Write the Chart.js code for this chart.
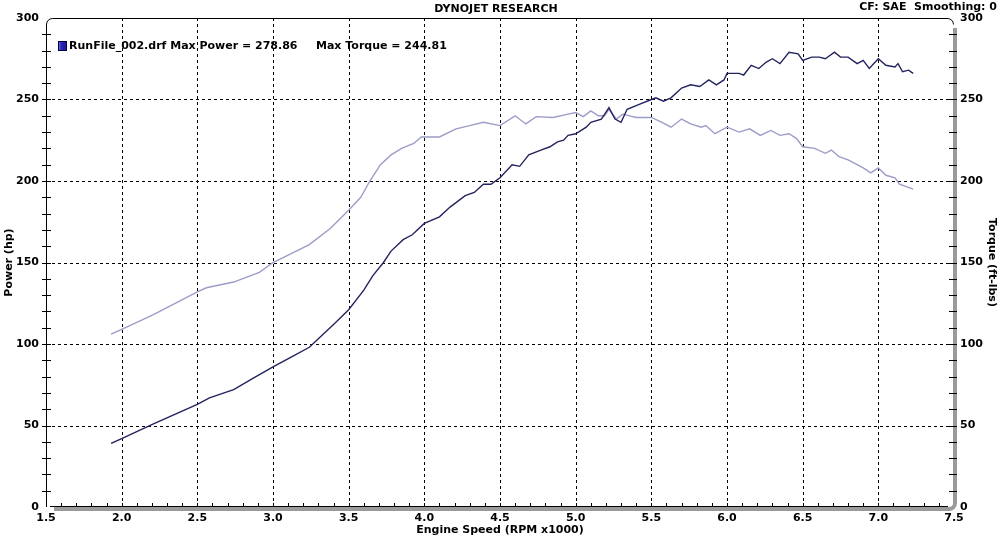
<!DOCTYPE html>
<html>
<head>
<meta charset="utf-8">
<script src="https://cdn.jsdelivr.net/npm/chart.js@4"></script>
<style>
  html, body { margin: 0; padding: 0; background: #fff; }
  #wrap { width: 1000px; height: 537px; }
</style>
</head>
<body>
<div id="wrap"><canvas id="dyno" width="1000" height="537"></canvas></div>
<script>
// Dyno run readings (RPM x1000)
const powerRpm = [1.93, 2.0, 2.21, 2.5, 2.58, 2.74, 2.87, 3.0, 3.12, 3.24, 3.40, 3.50, 3.60, 3.66, 3.73, 3.78, 3.86, 3.92, 4.0, 4.10,
    4.17, 4.27, 4.33, 4.39, 4.44, 4.5, 4.58, 4.63, 4.69, 4.77, 4.83, 4.88, 4.92, 4.95, 5.0, 5.07, 5.10, 5.17, 5.22, 5.26,
    5.30, 5.34, 5.42, 5.5, 5.53, 5.58, 5.63, 5.70, 5.76, 5.82, 5.88, 5.93, 5.98, 6.0, 6.08, 6.11, 6.16, 6.21, 6.26, 6.30,
    6.35, 6.41, 6.47, 6.50, 6.56, 6.61, 6.65, 6.71, 6.75, 6.80, 6.86, 6.90, 6.94, 7.0, 7.05, 7.11, 7.13, 7.16, 7.20, 7.23];
const powerHp = [39, 42, 51, 63, 67, 72, 79, 86, 92, 98, 112, 121, 133, 142, 150, 157, 164, 167, 174, 178,
    184, 191, 193, 198, 198, 202, 210, 209, 216, 219, 221, 224, 225, 228, 229, 233, 236, 238, 245, 238,
    236, 244, 247, 250, 251, 249, 251, 257, 259, 258, 262, 259, 262, 266, 266, 265, 271, 269, 273, 275,
    272, 279, 278, 274, 276, 276, 275, 279, 276, 276, 272, 274, 269, 275, 271, 270, 272, 267, 268, 266];

const torqueRpm = [1.93, 2.0, 2.21, 2.5, 2.56, 2.74, 2.91, 3.0, 3.11, 3.24, 3.38, 3.5, 3.58, 3.64, 3.71, 3.78, 3.85, 3.93, 3.98, 4.10,
    4.21, 4.30, 4.39, 4.50, 4.60, 4.67, 4.74, 4.85, 4.95, 5.0, 5.05, 5.10, 5.15, 5.19, 5.22, 5.27, 5.31, 5.40, 5.5, 5.57,
    5.63, 5.70, 5.76, 5.83, 5.86, 5.92, 6.0, 6.08, 6.15, 6.22, 6.29, 6.35, 6.41, 6.46, 6.50, 6.58, 6.65, 6.69, 6.74, 6.80,
    6.86, 6.90, 6.95, 7.0, 7.05, 7.11, 7.14, 7.23];
const torqueFtLbs = [106, 109, 118, 132, 134.5, 138, 144, 150, 155, 161, 171, 182, 190, 200, 210, 216, 220, 223, 227, 227,
    232, 234, 236, 234, 240, 235, 239.5, 239, 241, 242, 239.5, 243, 240, 240, 244, 238, 241, 239, 239, 236,
    233, 238, 235, 233, 234, 229, 233, 230, 232, 228, 231, 228, 229, 226, 221, 220, 217, 219, 215, 213,
    210, 208, 205, 208, 203.5, 202, 198, 195];

const rpmTicks = [1.5, 2.0, 2.5, 3.0, 3.5, 4.0, 4.5, 5.0, 5.5, 6.0, 6.5, 7.0, 7.5];
const yTicks = [0, 50, 100, 150, 200, 250, 300];

const FONT = 'DejaVu Sans, Verdana, sans-serif';

function toPoints(xs, ys) {
    return xs.map((x, i) => ({ x: x, y: ys[i] }));
}

// dashed grid under the curves
const dashedGrid = {
    id: 'dashedGrid',
    beforeDatasetsDraw(chart) {
        const ctx = chart.ctx;
        const a = chart.chartArea;
        const xs = chart.scales.x;
        const yl = chart.scales.y;
        ctx.save();
        ctx.strokeStyle = '#000';
        ctx.lineWidth = 1;
        ctx.setLineDash([3, 3]);
        ctx.beginPath();
        rpmTicks.slice(1, -1).forEach(v => {
            const px = Math.round(xs.getPixelForValue(v)) + 0.5;
            ctx.moveTo(px, a.top); ctx.lineTo(px, a.bottom);
        });
        yTicks.slice(1, -1).forEach(v => {
            const py = Math.round(yl.getPixelForValue(v)) + 0.5;
            ctx.moveTo(a.left, py); ctx.lineTo(a.right, py);
        });
        ctx.stroke();
        ctx.restore();
    }
};

// Frame, minor ticks and all the header / axis texts
const dynoDecor = {
    id: 'dynoDecor',
    afterDraw(chart) {
        const ctx = chart.ctx;
        const a = chart.chartArea;
        const xs = chart.scales.x;
        const yl = chart.scales.y;
        const r = 6;
        ctx.save();

        // grey shadow on right and bottom
        ctx.strokeStyle = '#9a9a9a';
        ctx.lineWidth = 4;
        ctx.beginPath();
        ctx.moveTo(a.right + 1, a.top + 10);
        ctx.lineTo(a.right + 1, a.bottom - r);
        ctx.arcTo(a.right + 1, a.bottom + 2, a.right - r, a.bottom + 2, r);
        ctx.lineTo(a.left + 8, a.bottom + 2);
        ctx.stroke();

        // black frame with rounded corners
        ctx.strokeStyle = '#000';
        ctx.lineWidth = 1;
        ctx.beginPath();
        ctx.moveTo(a.left + 0.5, a.bottom);
        ctx.lineTo(a.left + 0.5, a.top + r);
        ctx.arcTo(a.left + 0.5, a.top + 0.5, a.left + r, a.top + 0.5, r);
        ctx.lineTo(a.right - r, a.top + 0.5);
        ctx.arcTo(a.right - 0.5, a.top + 0.5, a.right - 0.5, a.top + r, r);
        ctx.moveTo(a.left + 4, a.bottom - 0.5);
        ctx.lineTo(a.right - r, a.bottom - 0.5);
        ctx.stroke();

        // minor ticks
        ctx.beginPath();
        for (let v = 10; v < 300; v += 10) {
            const py = Math.round(yl.getPixelForValue(v)) + 0.5;
            ctx.moveTo(a.left - 4, py); ctx.lineTo(a.left + 5, py);
            ctx.moveTo(a.right - 5, py); ctx.lineTo(a.right + 3, py);
        }
        for (let k = 16; k < 75; k++) {
            const px = Math.round(xs.getPixelForValue(k / 10)) + 0.5;
            ctx.moveTo(px, a.bottom - 4); ctx.lineTo(px, a.bottom);
        }
        ctx.stroke();

        // texts
        ctx.fillStyle = '#000';
        ctx.font = 'bold 11px ' + FONT;
        ctx.textBaseline = 'middle';
        ctx.textAlign = 'center';
        ctx.fillText('DYNOJET RESEARCH', 496, 9);
        ctx.textAlign = 'right';
        ctx.fillText('CF: SAE  Smoothing: 0', 997, 7);

        ctx.textAlign = 'left';
        ctx.fillText('RunFile_002.drf Max Power = 278.86', 69, 46);
        ctx.fillText('Max Torque = 244.81', 316, 46);

        // legend swatch
        const g = ctx.createLinearGradient(58, 0, 67, 0);
        g.addColorStop(0, '#8a8ae8');
        g.addColorStop(0.35, '#2525b8');
        g.addColorStop(1, '#1a1a90');
        ctx.fillStyle = g;
        ctx.fillRect(58, 41, 9, 10);
        ctx.strokeStyle = '#000040';
        ctx.strokeRect(58.5, 41.5, 8, 9);

        ctx.fillStyle = '#000';
        ctx.textAlign = 'center';
        ctx.fillText('Engine Speed (RPM x1000)', 500, 530);

        ctx.save();
        ctx.translate(9, (a.top + a.bottom) / 2);
        ctx.rotate(-Math.PI / 2);
        ctx.fillText('Power (hp)', 0, 0);
        ctx.restore();

        ctx.save();
        ctx.translate(992, (a.top + a.bottom) / 2);
        ctx.rotate(Math.PI / 2);
        ctx.fillText('Torque (ft-lbs)', 0, 0);
        ctx.restore();

        ctx.restore();
    }
};

const ctx = document.getElementById('dyno').getContext('2d');
new Chart(ctx, {
    type: 'line',
    data: {
        datasets: [
            {
                label: 'Power (hp)',
                data: toPoints(powerRpm, powerHp),
                borderColor: '#23235f',
                borderWidth: 1.4,
                pointRadius: 0,
                tension: 0,
                yAxisID: 'y'
            },
            {
                label: 'Torque (ft-lbs)',
                data: toPoints(torqueRpm, torqueFtLbs),
                borderColor: '#9c9cc8',
                borderWidth: 1.4,
                pointRadius: 0,
                tension: 0,
                yAxisID: 'y2'
            }
        ]
    },
    options: {
        responsive: false,
        animation: false,
        layout: { padding: { top: 18, left: 0, right: 0, bottom: 0 } },
        plugins: {
            legend: { display: false },
            tooltip: { enabled: false }
        },
        scales: {
            x: {
                type: 'linear',
                min: 1.5,
                max: 7.5,
                afterFit(s) { s.height = 30; },
                afterBuildTicks(s) { s.ticks = rpmTicks.map(v => ({ value: v })); },
                ticks: {
                    color: '#000',
                    font: { family: FONT, size: 11, weight: 'bold' },
                    padding: 5,
                    maxRotation: 0,
                    autoSkip: false,
                    callback: v => v.toFixed(1)
                },
                grid: { display: false, drawTicks: false },
                border: { display: false }
            },
            y: {
                position: 'left',
                min: 0,
                max: 300,
                afterFit(s) { s.width = 46; },
                afterBuildTicks(s) { s.ticks = yTicks.map(v => ({ value: v })); },
                ticks: {
                    color: '#000',
                    font: { family: FONT, size: 11, weight: 'bold' },
                    padding: 7
                },
                grid: { display: false, drawTicks: false },
                border: { display: false }
            },
            y2: {
                position: 'right',
                min: 0,
                max: 300,
                afterFit(s) { s.width = 46; },
                afterBuildTicks(s) { s.ticks = yTicks.map(v => ({ value: v })); },
                ticks: {
                    color: '#000',
                    font: { family: FONT, size: 11, weight: 'bold' },
                    padding: 6
                },
                grid: { display: false, drawTicks: false },
                border: { display: false }
            }
        }
    },
    plugins: [dashedGrid, dynoDecor]
});
</script>
</body>
</html>
